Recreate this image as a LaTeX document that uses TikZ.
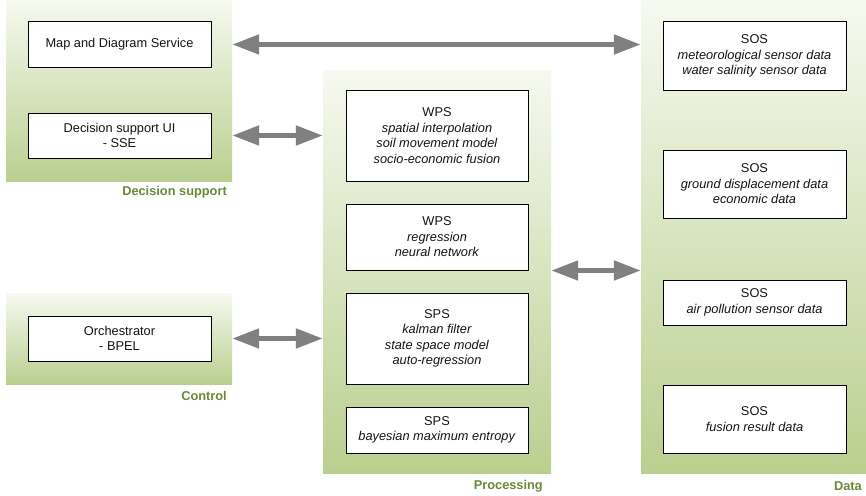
\documentclass[tikz,border=0pt]{standalone}
\usepackage{fontspec}
\setmainfont{Liberation Sans}
\usetikzlibrary{arrows.meta,shadows}

\definecolor{panelgreen}{RGB}{186,207,143}
\definecolor{paneltop}{RGB}{246,249,240}
\definecolor{labelgreen}{RGB}{106,137,55}
\definecolor{arrowgray}{RGB}{128,128,128}
\definecolor{inktext}{RGB}{20,20,20}

\tikzset{
  panel/.style={rectangle, inner sep=0pt, draw=none,
    top color=paneltop, bottom color=panelgreen},
  svcbox/.style={rectangle, draw=black, line width=1pt, fill=white,
    inner sep=0pt, minimum width=183pt, align=center, text=inktext,
    font=\fontsize{12.8}{15.5}\selectfont,
    drop shadow={shadow xshift=1pt, shadow yshift=-1pt, fill=black, opacity=0.8}},
  tierlabel/.style={anchor=east, inner sep=0pt, text=labelgreen,
    font=\fontsize{12.8}{14}\selectfont\bfseries},
  link/.style={draw=arrowgray, line width=5pt,
    {Triangle[length=27pt,width=19pt]}-{Triangle[length=27pt,width=19pt]}}
}

\begin{document}
\begin{tikzpicture}[x=1pt,y=-1pt]
\useasboundingbox (0,0) rectangle (866,495);

% tier panels
\node[panel, minimum width=226pt, minimum height=181pt] (dspanel)   at (119,90.5)   {};
\node[panel, minimum width=226pt, minimum height=91pt]  (ctlpanel)  at (119,338.5)  {};
\node[panel, minimum width=228pt, minimum height=403pt] (procpanel) at (437,271.5)  {};
\node[panel, minimum width=225pt, minimum height=473pt] (datapanel) at (753.5,236.5) {};

% tier captions
\node[tierlabel] (dslabel)   at (227,192) {Decision support};
\node[tierlabel] (ctllabel)  at (227,396) {Control};
\node[tierlabel] (proclabel) at (543,486) {Processing};
\node[tierlabel] (datalabel) at (862,486) {Data};

% decision support
\node[svcbox, minimum height=45pt] (map)  at (119.5,44.5)  {Map and Diagram Service};
\node[svcbox, minimum height=45pt] (dsui) at (119.5,135.5) {Decision support UI\\- SSE};

% control
\node[svcbox, minimum height=45pt] (orch) at (119.5,338.5) {Orchestrator\\- BPEL};

% processing services
\node[svcbox, minimum width=182pt, minimum height=91pt] (wpsa) at (437,135.5)
  {WPS\\\textit{spatial interpolation}\\\textit{soil movement model}\\\textit{socio-economic fusion}};
\node[svcbox, minimum width=182pt, minimum height=66pt] (wpsb) at (437,237)
  {WPS\\\textit{regression}\\\textit{neural network}};
\node[svcbox, minimum width=182pt, minimum height=91pt] (spsa) at (437,338.5)
  {SPS\\\textit{kalman filter}\\\textit{state space model}\\\textit{auto-regression}};
\node[svcbox, minimum width=182pt, minimum height=46pt] (spsb) at (437,430)
  {SPS\\\textit{bayesian maximum entropy}};

% data services
\node[svcbox, minimum height=68pt] (sosa) at (754.5,56)
  {SOS\\\textit{meteorological sensor data}\\\textit{water salinity sensor data}};
\node[svcbox, minimum height=68pt] (sosb) at (754.5,184)
  {SOS\\\textit{ground displacement data}\\\textit{economic data}};
\node[svcbox, minimum height=45pt] (sosc) at (754.5,302.5)
  {SOS\\\textit{air pollution sensor data}};
\node[svcbox, minimum height=68pt] (sosd) at (754.5,419)
  {SOS\\\textit{fusion result data}};

% links between tiers
\coordinate (pdlevel) at (596,270.5);
\draw[link] (dspanel.east |- map.east) -- (datapanel.west |- map.east);
\draw[link] (dspanel.east |- dsui.east) -- (procpanel.west |- dsui.east);
\draw[link] (ctlpanel.east |- orch.east) -- (procpanel.west |- orch.east);
\draw[link] (procpanel.east |- pdlevel) -- (datapanel.west |- pdlevel);
\end{tikzpicture}
\end{document}
